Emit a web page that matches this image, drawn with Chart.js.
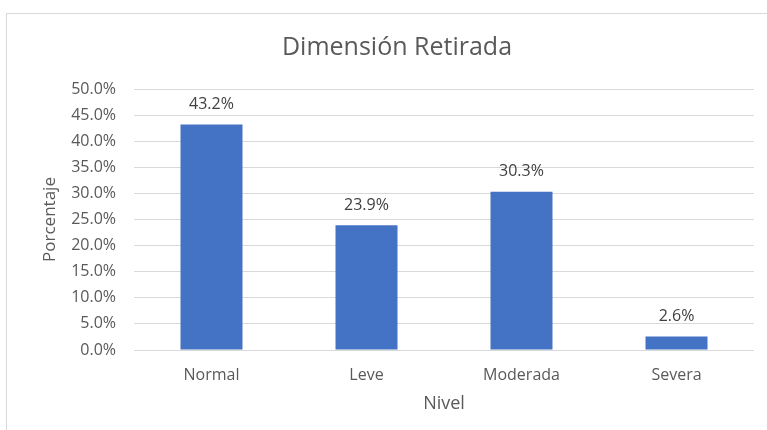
<!DOCTYPE html>
<html>
<head>
<meta charset="utf-8">
<script src="https://cdn.jsdelivr.net/npm/chart.js@4/dist/chart.umd.min.js"></script>
<style>
  html, body { margin: 0; padding: 0; background: #fff; }
  #wrap { position: relative; width: 767px; height: 430px; overflow: hidden; }
  #frame { position: absolute; left: 6px; top: 13px; width: 800px; height: 460px; border: 1.5px solid #D9D9D9; box-sizing: border-box; }
  canvas { position: absolute; left: 0; top: 0; }
</style>
</head>
<body>
<div id="wrap">
  <div id="frame"></div>
  <canvas id="c" width="767" height="430"></canvas>
</div>
<script>
const categories = ["Normal", "Leve", "Moderada", "Severa"];
const values = [43.2, 23.9, 30.3, 2.6];
const chartTitle = "Dimensión Retirada";
const yTitle = "Porcentaje";
const xTitle = "Nivel";

const FONT = "'Open Sans', 'Noto Sans', sans-serif";
const TEXT = "#595959";

const labelPlugin = {
  id: 'barLabels',
  afterDatasetsDraw(chart) {
    const ctx = chart.ctx;
    const meta = chart.getDatasetMeta(0);
    ctx.save();
    ctx.font = "16px " + FONT;
    ctx.fillStyle = "#404040";
    ctx.textAlign = "center";
    ctx.textBaseline = "middle";
    meta.data.forEach((bar, i) => {
      ctx.fillText(values[i].toFixed(1) + "%", bar.x, bar.y - 20);
    });
    ctx.restore();
  }
};

new Chart(document.getElementById('c'), {
  type: 'bar',
  data: {
    labels: categories,
    datasets: [{
      data: values,
      backgroundColor: "#4472C4",
      borderWidth: 0,
      categoryPercentage: 1.0,
      barPercentage: 0.4
    }]
  },
  options: {
    responsive: false,
    animation: false,
    devicePixelRatio: 1,
    layout: { padding: { left: 40, right: 13, top: 0, bottom: 0 } },
    plugins: {
      legend: { display: false },
      tooltip: { enabled: false },
      title: {
        display: true,
        text: chartTitle,
        color: TEXT,
        font: { family: FONT, size: 25, weight: 'normal' },
        padding: { top: 33, bottom: 26 }
      }
    },
    scales: {
      x: {
        grid: { display: false, drawTicks: false },
        border: { display: false },
        ticks: { color: TEXT, font: { family: FONT, size: 16 }, padding: 16 },
        title: { display: true, text: xTitle, color: TEXT, font: { family: FONT, size: 18 }, padding: { top: 0, bottom: 15 } },
        afterFit(s) { s.height = 80; }
      },
      y: {
        min: 0, max: 50,
        grid: { color: "#D9D9D9", drawTicks: false, lineWidth: 1 },
        border: { display: false },
        ticks: {
          stepSize: 5,
          color: TEXT,
          font: { family: FONT, size: 16 },
          padding: 18,
          callback: v => Number(v).toFixed(1) + "%"
        },
        title: { display: true, text: yTitle, color: TEXT, font: { family: FONT, size: 17 }, padding: { top: 0, bottom: 0 } },
        afterFit(s) { s.width = 94; }
      }
    }
  },
  plugins: [labelPlugin]
});
</script>
</body>
</html>
